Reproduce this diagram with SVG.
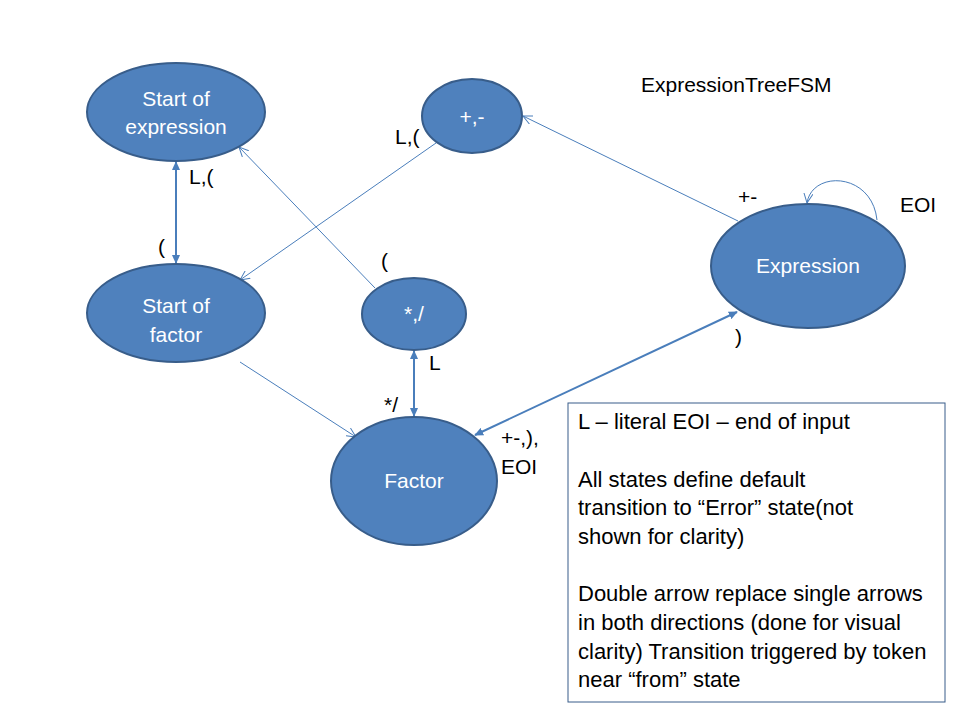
<svg xmlns="http://www.w3.org/2000/svg" width="960" height="720" viewBox="0 0 960 720">
<style>
.node{fill:#4F81BD;stroke:#385D8A;stroke-width:2}
.nt{font-family:"Liberation Sans",Arial,sans-serif;font-size:21px;fill:#ffffff;text-anchor:middle}
.lbl{font-family:"Liberation Sans",Arial,sans-serif;font-size:21px;fill:#000000}
.leg{font-family:"Liberation Sans",Arial,sans-serif;font-size:22px;fill:#000000}
.thin{stroke:#4A7EBB;stroke-width:1;fill:none;marker-end:url(#open)}
.thick{stroke:#4A7EBB;stroke-width:2;fill:none;marker-start:url(#tri);marker-end:url(#tri)}
</style>
<defs>
<marker id="open" viewBox="0 0 10 10" refX="9.5" refY="5" markerWidth="10" markerHeight="10" markerUnits="userSpaceOnUse" orient="auto">
<path d="M0,0.5 L9.5,5 L0,9.5" fill="none" stroke="#4A7EBB" stroke-width="1"/>
</marker>
<marker id="tri" viewBox="0 0 10 10" refX="9" refY="5" markerWidth="9" markerHeight="9" markerUnits="userSpaceOnUse" orient="auto-start-reverse">
<path d="M0,0.5 L10,5 L0,9.5 Z" fill="#4A7EBB"/>
</marker>
</defs>
<rect width="960" height="720" fill="#ffffff"/>

<g id="connectors">
<line class="thick" x1="176" y1="162" x2="176" y2="263"/>
<line class="thin" x1="436" y1="143" x2="240" y2="280"/>
<line class="thin" x1="375" y1="288" x2="239" y2="147"/>
<line class="thin" x1="738" y1="221" x2="523" y2="116"/>
<path class="thin" d="M877,220 C872,172 812,170 807,203"/>
<line class="thick" x1="475" y1="435" x2="737" y2="312"/>
<line class="thick" x1="414" y1="351" x2="414" y2="416"/>
<line class="thin" x1="240" y1="362" x2="356" y2="437"/>
</g>

<g id="start-expression">
<ellipse class="node" cx="176" cy="112" rx="89" ry="49"/>
<text class="nt" x="176" y="106">Start of</text>
<text class="nt" x="176" y="134">expression</text>
</g>
<g id="plus-minus">
<ellipse class="node" cx="472" cy="116" rx="50" ry="37"/>
<text class="nt" x="472" y="124">+,-</text>
</g>
<g id="start-factor">
<ellipse class="node" cx="176" cy="313" rx="89" ry="49"/>
<text class="nt" x="176" y="313">Start of</text>
<text class="nt" x="176" y="342">factor</text>
</g>
<g id="mul-div">
<ellipse class="node" cx="414" cy="314" rx="52" ry="36"/>
<text class="nt" x="414" y="321">*,/</text>
</g>
<g id="expression">
<ellipse class="node" cx="808" cy="266" rx="97" ry="62"/>
<text class="nt" x="808" y="273">Expression</text>
</g>
<g id="factor">
<ellipse class="node" cx="414" cy="481" rx="83" ry="64"/>
<text class="nt" x="414" y="488">Factor</text>
</g>

<g id="labels">
<text class="lbl" x="641" y="92">ExpressionTreeFSM</text>
<text class="lbl" x="189" y="184">L,(</text>
<text class="lbl" x="158" y="254">(</text>
<text class="lbl" x="395" y="144">L,(</text>
<text class="lbl" x="381" y="268">(</text>
<text class="lbl" x="738" y="204">+-</text>
<text class="lbl" x="900" y="212">EOI</text>
<text class="lbl" x="735" y="344">)</text>
<text class="lbl" x="429" y="370">L</text>
<text class="lbl" x="384" y="412">*/</text>
<text class="lbl" x="501" y="445">+-,),</text>
<text class="lbl" x="501" y="474">EOI</text>
</g>

<g id="legend">
<rect x="568" y="403" width="377" height="299" fill="#ffffff" stroke="#385D8A" stroke-width="1"/>
<text class="leg" x="578" y="429">L – literal EOI – end of input</text>
<text class="leg" x="578" y="487">All states define default</text>
<text class="leg" x="578" y="515">transition to “Error” state(not</text>
<text class="leg" x="578" y="544">shown for clarity)</text>
<text class="leg" x="578" y="601">Double arrow replace single arrows</text>
<text class="leg" x="578" y="630">in both directions (done for visual</text>
<text class="leg" x="578" y="659">clarity) Transition triggered by token</text>
<text class="leg" x="578" y="687">near “from” state</text>
</g>
</svg>
